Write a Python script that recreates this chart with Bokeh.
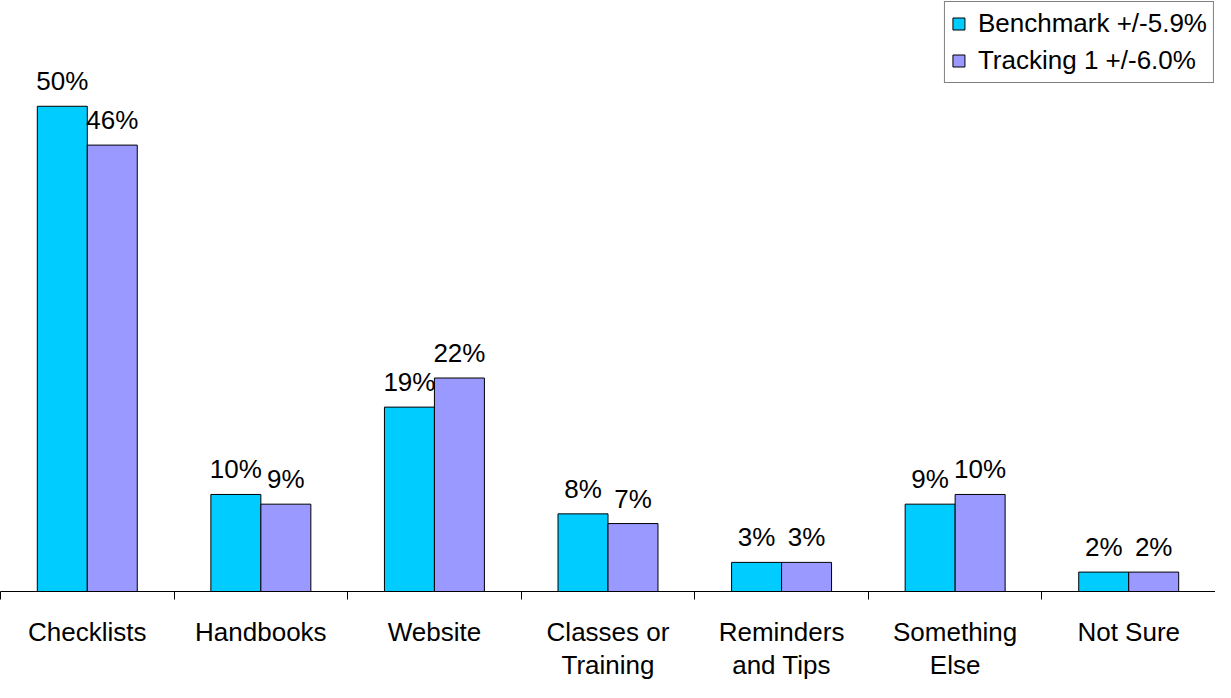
from bokeh.plotting import figure
from bokeh.models import ColumnDataSource, Range1d, FixedTicker, LabelSet, Legend, LegendItem
from bokeh.core.properties import value
from bokeh.embed import file_html
from bokeh.resources import INLINE

categories = ["Checklists", "Handbooks", "Website", "Classes or\nTraining",
              "Reminders\nand Tips", "Something\nElse", "Not Sure"]
benchmark = [50, 10, 19, 8, 3, 9, 2]
tracking = [46, 9, 22, 7, 3, 10, 2]
series_names = ["Benchmark +/-5.9%", "Tracking 1 +/-6.0%"]
colors = ["#00CCFF", "#9999FF"]

FONT = "Liberation Sans"
n = len(categories)
centers = [i + 0.5 for i in range(n)]
bw = 0.288

src_b = ColumnDataSource(dict(x=[c - bw / 2 for c in centers], y=benchmark,
                              lab=[f"{v}%" for v in benchmark]))
src_t = ColumnDataSource(dict(x=[c + bw / 2 for c in centers], y=tracking,
                              lab=[f"{v}%" for v in tracking]))

p = figure(width=1215, height=682, output_backend="svg", toolbar_location=None,
           x_range=Range1d(0, n), y_range=Range1d(0, 60.9),
           min_border_left=0, min_border_right=0, min_border_top=0, min_border_bottom=0)
p.outline_line_color = None
p.xgrid.visible = False
p.ygrid.visible = False
p.yaxis.visible = False
p.background_fill_color = "white"
p.border_fill_color = "white"

r1 = p.vbar(x="x", top="y", width=bw, source=src_b, fill_color=colors[0], line_color="black", line_width=1)
r2 = p.vbar(x="x", top="y", width=bw, source=src_t, fill_color=colors[1], line_color="black", line_width=1)

for s in (src_b, src_t):
    p.add_layout(LabelSet(x="x", y="y", text="lab", source=s, text_align="center",
                          text_baseline="alphabetic", y_offset=16,
                          text_font=value(FONT), text_font_size="26px", text_color="black"))

ax = p.xaxis[0]
ax.ticker = FixedTicker(ticks=centers, minor_ticks=list(range(n + 1)))
ax.major_label_overrides = {c: lab for c, lab in zip(centers, categories)}
ax.major_tick_out = 0
ax.major_tick_in = 0
ax.minor_tick_out = 8
ax.minor_tick_in = 0
ax.minor_tick_line_color = "black"
ax.axis_line_color = "black"
ax.major_label_text_font = FONT
ax.major_label_text_font_size = "26px"
ax.major_label_text_color = "black"
ax.major_label_text_line_height = 1.1
ax.major_label_standoff = 17

legend = Legend(items=[LegendItem(label=series_names[0], renderers=[r1]),
                       LegendItem(label=series_names[1], renderers=[r2])],
                location="top_right", label_text_font=FONT, label_text_font_size="26px",
                label_text_color="black",
                glyph_width=15, glyph_height=15, label_standoff=12, padding=6, spacing=6,
                margin=1, border_line_color="black", border_line_width=1,
                background_fill_alpha=1)
p.add_layout(legend)

open("out.html", "w").write(file_html(p, INLINE))
